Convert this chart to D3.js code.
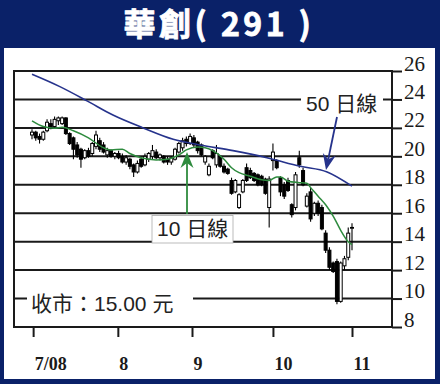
<!DOCTYPE html>
<html>
<head>
<meta charset="utf-8">
<script src="https://cdn.jsdelivr.net/npm/d3@7"></script>
<style>
body { margin: 0; background: #fff; }
svg { display: block; }
</style>
</head>
<body>
<div id="chart"></div>
<script>
// daily prices, Jul 2008 - early Nov 2008
var openP  = [21.5,21.7,21.4,21.2,21.8,22.3,22.1,22.5,22.3,22.7, 21.6,21.3,20.8,20.5,19.9,20.4,20.2,20.7,21.1,20.8,
              20.1,20.4,20.0,20.2,20.0,19.6,19.8,19.4,18.9,19.8, 19.4,19.8,20.0,20.3,19.9,20.0,19.8,19.6,19.8,20.3,
              20.6,21.2,20.9,21.3,21.0,20.8,19.6,18.7,20.4,19.4, 20.0,19.3,19.1,18.3,17.5,16.4,17.5,19.2,19.0,18.8,
              18.7,18.6,18.4,16.4,19.7,19.7,18.5,18.0,18.3,16.6, 16.4,19.9,19.0,16.5,17.5,16.0,16.7,16.4,14.6,13.4,
              12.5,12.6,9.8,12.3,12.9,14.95];
var highP  = [21.9,21.8,21.6,21.8,22.6,22.6,22.8,22.8,22.8,22.75, 21.7,21.4,21.0,20.6,20.5,20.6,21.0,21.8,21.3,21.0,
              20.6,20.5,20.3,20.4,20.2,20.1,19.9,19.5,19.7,19.9, 20.2,20.3,20.8,20.5,20.2,20.1,20.0,20.0,20.6,21.0,
              21.3,21.4,21.6,21.5,21.1,20.9,20.1,19.5,20.5,20.8, 20.1,19.5,19.2,18.5,18.4,17.4,18.4,19.5,19.2,18.9,
              18.8,18.7,18.5,18.6,20.9,19.8,18.6,18.2,18.5,16.7, 18.9,20.4,19.2,17.4,17.8,16.8,16.9,16.6,14.8,13.6,
              12.6,12.8,12.6,13.0,15.0,15.3];
var lowP   = [21.2,21.1,20.9,21.1,21.7,21.9,22.0,22.2,22.2,21.5, 20.8,19.8,19.9,19.2,19.8,19.9,20.0,20.5,20.3,20.2,
              19.9,19.9,19.8,19.8,19.5,19.4,19.1,18.55,18.8,19.2, 19.3,19.6,19.8,19.8,19.7,19.5,19.4,19.4,19.7,20.2,
              20.4,20.7,20.8,20.6,20.2,20.0,19.4,18.6,19.8,19.2, 19.2,18.8,18.7,17.3,17.4,16.3,17.4,18.2,18.4,18.2,
              17.9,17.9,17.3,15.0,19.0,19.1,17.2,17.0,17.5,15.7, 16.2,19.2,17.9,16.4,15.4,15.8,15.8,14.8,13.2,12.0,
              11.8,9.6,9.7,12.0,12.7,13.4];
var closeP = [21.7,21.3,21.2,21.7,22.4,22.1,22.6,22.7,22.7,21.6, 20.9,20.5,20.1,19.8,20.4,20.0,20.9,21.5,20.5,20.3,
              20.4,20.0,20.2,19.9,19.6,19.9,19.3,18.9,19.5,19.3, 20.0,20.2,20.4,19.9,20.1,19.6,19.6,19.9,20.5,20.9,
              21.1,20.9,21.4,20.8,20.4,20.1,20.0,19.3,19.9,20.2, 19.3,18.9,18.8,17.4,18.3,17.3,18.3,18.3,18.5,18.3,
              18.0,18.0,17.4,18.4,20.3,19.2,17.5,17.2,17.6,15.9, 18.7,19.4,18.0,17.2,15.6,16.7,16.0,14.9,13.4,12.2,
              11.9,9.8,12.5,12.8,14.6,15.0];

// moving averages: [day index, value]
var ma50 = [[0,25.77],[7.4,24.9],[14.6,23.9],[21.5,22.9],[29.5,22.0],[37.5,21.2],[44.6,20.8],
            [53.4,20.4],[62.4,19.9],[71.2,19.3],[78.4,18.9],[85,17.9]];
var ma10 = [[0,22.5],[3,22.1],[6,21.98],[8,22.05],[11,21.8],[15,21.3],[19,20.6],[21,20.45],[24,20.5],
            [26,20.2],[29,19.9],[33,19.75],[36,19.8],[39,20.1],[41,20.45],[44,20.65],[46,20.6],[48,20.4],
            [51,19.8],[53,19.2],[55,18.85],[58,18.6],[61,18.35],[63,18.3],[65,18.55],[66,18.55],[68,18.25],
            [71,18.15],[73,18.1],[74,17.8],[76,17.2],[78,16.6],[80,15.8],[82,14.8],[84,14.0],[85,13.8]];

var yTicks = [8,10,12,14,16,18,20,22,24,26];
var monthPos = [0.3,22.8,42.5,64,85];
var monthLabels = ['7/08','8','9','10','11'];

var W = 440, H = 384;
var navy = '#0a2168';
var ink = '#1a1a1a';
var sans = '"Liberation Sans","Noto Sans CJK TC",sans-serif';
var serif = '"Liberation Serif","DejaVu Serif",serif';

var svg = d3.select('#chart').append('svg')
    .attr('width', W)
    .attr('height', H);

svg.append('rect').attr('width', W).attr('height', H).attr('fill', navy);
svg.append('rect')
    .attr('x', 4).attr('y', 48)
    .attr('width', 431).attr('height', 331)
    .attr('fill', '#fff');

svg.append('text')
    .text('華創( 291 )')
    .attr('x', 219).attr('y', 36)
    .attr('text-anchor', 'middle')
    .attr('fill', '#fff')
    .attr('stroke', '#fff')
    .attr('stroke-width', 0.8)
    .style('font-family', '"Noto Sans CJK TC",sans-serif')
    .style('font-weight', 'bold')
    .style('font-size', '32px')
    .style('letter-spacing', '3.5px');

var plotL = 14, plotR = 392, plotT = 71, plotB = 327;
var x = d3.scaleLinear().domain([0, closeP.length - 1]).range([32, 352]);
var y = d3.scaleLinear().domain([8, 26]).range([plotB, plotT]);

// grid
svg.append('g').selectAll('line')
    .data(yTicks)
    .enter()
    .append('line')
    .attr('x1', plotL).attr('x2', plotR)
    .attr('y1', d => y(d)).attr('y2', d => y(d))
    .attr('stroke', ink)
    .attr('stroke-width', 2);

svg.append('line').attr('x1', plotL).attr('x2', plotL).attr('y1', plotT - 1).attr('y2', plotB + 1)
    .attr('stroke', ink).attr('stroke-width', 2);
svg.append('line').attr('x1', plotR).attr('x2', plotR).attr('y1', plotT - 1).attr('y2', plotB + 1)
    .attr('stroke', ink).attr('stroke-width', 2);

// right axis
var gy = svg.append('g')
    .attr('transform', 'translate(' + plotR + ',0)')
    .call(d3.axisRight(y).tickValues(yTicks).tickSize(10).tickFormat(d3.format('d')));
gy.select('.domain').remove();
gy.selectAll('line').attr('stroke', ink).attr('stroke-width', 2);
gy.selectAll('text')
    .attr('x', 12)
    .attr('dy', '-1')
    .attr('fill', ink)
    .style('font-family', serif)
    .style('font-size', '21px');

// bottom axis
var gx = svg.append('g')
    .attr('transform', 'translate(0,' + plotB + ')')
    .call(d3.axisBottom(x).tickValues(monthPos).tickSize(10).tickFormat((d, i) => monthLabels[i]));
gx.select('.domain').remove();
gx.selectAll('line').attr('stroke', ink).attr('stroke-width', 2);
gx.selectAll('text')
    .attr('x', 1)
    .attr('y', 43)
    .attr('dy', 0)
    .attr('text-anchor', 'start')
    .attr('fill', ink)
    .style('font-family', serif)
    .style('font-weight', 'bold')
    .style('font-size', '18px');

// label boxes cutting the grid
svg.append('rect').attr('x', 301).attr('y', 89).attr('width', 82).attr('height', 25).attr('fill', '#fff');
svg.append('rect').attr('x', 27).attr('y', 288).attr('width', 166).attr('height', 30).attr('fill', '#fff');

// candles
var idx = d3.range(closeP.length);
var candles = svg.append('g');
candles.selectAll('line')
    .data(idx)
    .enter()
    .append('line')
    .attr('x1', i => x(i)).attr('x2', i => x(i))
    .attr('y1', i => y(highP[i])).attr('y2', i => y(lowP[i]))
    .attr('stroke', '#000')
    .attr('stroke-width', 1.1);
candles.selectAll('rect')
    .data(idx)
    .enter()
    .append('rect')
    .attr('x', i => x(i) - 1.5)
    .attr('width', 3)
    .attr('y', i => y(Math.max(openP[i], closeP[i])))
    .attr('height', i => Math.max(0.8, Math.abs(y(openP[i]) - y(closeP[i]))))
    .attr('fill', i => closeP[i] >= openP[i] ? '#fff' : '#000')
    .attr('stroke', '#000')
    .attr('stroke-width', 1);

// moving averages
var maLine = d3.line().x(d => x(d[0])).y(d => y(d[1])).curve(d3.curveMonotoneX);
svg.append('path').attr('d', maLine(ma50))
    .attr('fill', 'none').attr('stroke', '#26338c').attr('stroke-width', 1.6);
svg.append('path').attr('d', maLine(ma10))
    .attr('fill', 'none').attr('stroke', '#2e8b3e').attr('stroke-width', 1.5);

function arrow(x1, y1, x2, y2, color) {
    var a = Math.atan2(y2 - y1, x2 - x1);
    var len = 16, half = 6.5, notch = 11;
    var bx = x2 - len * Math.cos(a), by = y2 - len * Math.sin(a);
    var nx = x2 - notch * Math.cos(a), ny = y2 - notch * Math.sin(a);
    var px = -Math.sin(a), py = Math.cos(a);
    svg.append('line')
        .attr('x1', x1).attr('y1', y1).attr('x2', nx).attr('y2', ny)
        .attr('stroke', color).attr('stroke-width', 1.8);
    svg.append('path')
        .attr('d', 'M' + x2 + ',' + y2 +
            'L' + (bx + px * half) + ',' + (by + py * half) +
            'L' + nx + ',' + ny +
            'L' + (bx - px * half) + ',' + (by - py * half) + 'Z')
        .attr('fill', color);
}
arrow(337, 117, 326, 170, '#26338c');
arrow(187, 214, 187, 152, '#2e8b3e');

svg.append('text')
    .text('50 日線')
    .attr('x', 306).attr('y', 111)
    .attr('fill', '#222')
    .style('font-family', sans)
    .style('font-size', '21px');

svg.append('rect')
    .attr('x', 152).attr('y', 215.5)
    .attr('width', 81).attr('height', 27.5)
    .attr('fill', '#fff')
    .attr('stroke', '#aaa')
    .attr('stroke-width', 0.8);
svg.append('text')
    .text('10 日線')
    .attr('x', 157).attr('y', 236)
    .attr('fill', '#222')
    .style('font-family', sans)
    .style('font-size', '21px');

svg.append('text')
    .text('收市：15.00 元')
    .attr('x', 31).attr('y', 311)
    .attr('fill', '#222')
    .style('font-family', sans)
    .style('font-size', '21px');
</script>
</body>
</html>
